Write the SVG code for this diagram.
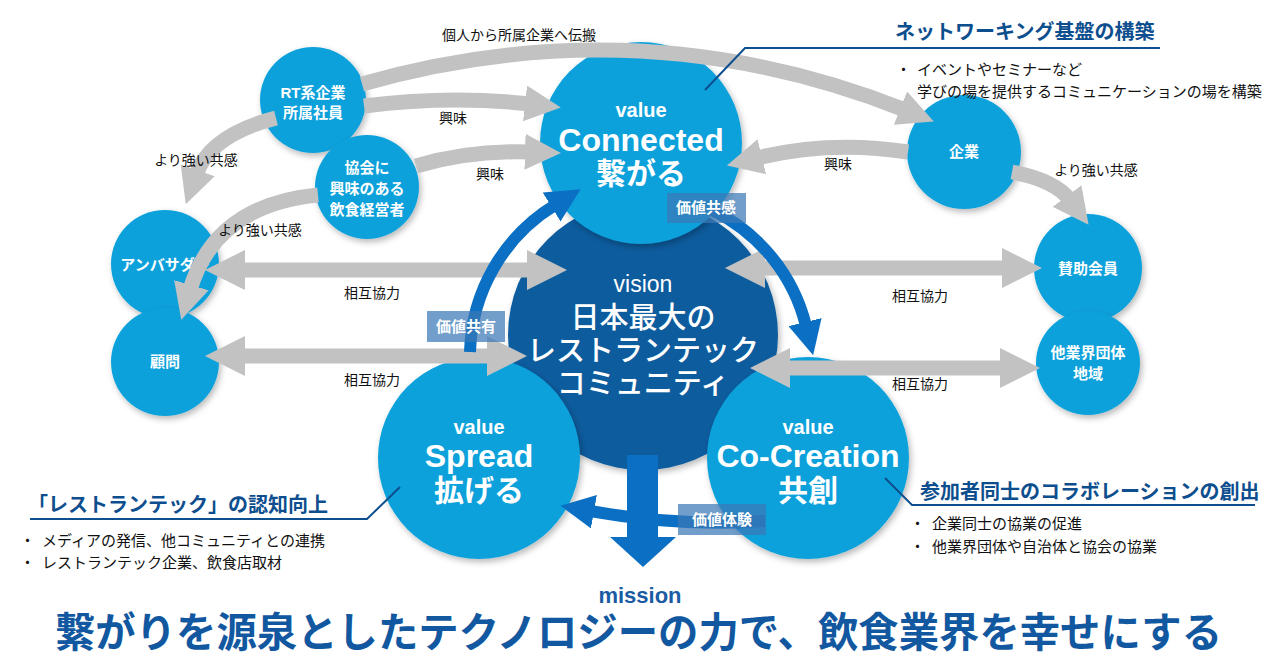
<svg xmlns="http://www.w3.org/2000/svg" width="1280" height="670" viewBox="0 0 1280 670">
<defs>
<style>
text{font-family:"Liberation Sans","Noto Sans CJK JP",sans-serif;}
.lc{fill:#0ca1db;}
.vc{fill:#0b5c9e;}
.nt{fill:#fff;font-weight:bold;font-size:15px;text-anchor:middle;}
.vt{fill:#fff;font-weight:bold;text-anchor:middle;}
.vs{fill:#fff;font-size:29px;font-weight:500;text-anchor:middle;}
.lb{fill:#111;font-size:14px;text-anchor:middle;}
.hd{fill:#0d4e8e;font-weight:bold;font-size:20px;}
.bl{fill:#111;font-size:15px;}
.ga{fill:none;stroke:#c2c2c2;stroke-width:15;}
.ba{fill:none;stroke:#0b6fc3;stroke-width:12;}
.bx{fill:#3a78b5;opacity:0.72;}
.bxt{fill:#fff;font-weight:bold;font-size:15px;text-anchor:middle;}
.ld{fill:none;stroke:#0d4e8e;stroke-width:2;}
</style>
<filter id="sh" x="-20%" y="-20%" width="140%" height="140%">
<feDropShadow dx="2" dy="3" stdDeviation="3" flood-color="#000" flood-opacity="0.28"/>
</filter>
<marker id="gh" viewBox="0 0 40 40" refX="5" refY="20" markerWidth="40" markerHeight="40" markerUnits="userSpaceOnUse" orient="auto-start-reverse">
<path d="M0 0 L40 20 L0 40 Z" fill="#c2c2c2"/>
</marker>
<marker id="gs" viewBox="0 0 36 36" refX="5" refY="18" markerWidth="36" markerHeight="36" markerUnits="userSpaceOnUse" orient="auto-start-reverse">
<path d="M0 0 L36 18 L0 36 Z" fill="#c2c2c2"/>
</marker>
<marker id="bh" viewBox="0 0 34 34" refX="4" refY="17" markerWidth="34" markerHeight="34" markerUnits="userSpaceOnUse" orient="auto">
<path d="M0 0 L34 17 L0 34 Z" fill="#0b6fc3"/>
</marker>
</defs>
<rect width="1280" height="670" fill="#fff"/>

<!-- main circles -->
<g id="vision">
<circle class="vc" cx="643" cy="335" r="135" filter="url(#sh)"/>
</g>
<g id="connected">
<circle class="lc" cx="641" cy="143" r="101" filter="url(#sh)"/>
<text class="vt" x="641" y="117" font-size="20">value</text>
<text class="vt" x="641" y="151" font-size="32">Connected</text>
<text class="vt" x="641" y="184" font-size="30">繋がる</text>
</g>
<g id="spread">
<circle class="lc" cx="479" cy="458" r="101" filter="url(#sh)"/>
<text class="vt" x="479" y="434" font-size="20">value</text>
<text class="vt" x="479" y="467" font-size="32">Spread</text>
<text class="vt" x="479" y="501" font-size="30">拡げる</text>
</g>
<g id="cocreation">
<circle class="lc" cx="808" cy="458" r="101" filter="url(#sh)"/>
<text class="vt" x="808" y="434" font-size="20">value</text>
<text class="vt" x="808" y="467" font-size="32">Co-Creation</text>
<text class="vt" x="808" y="501" font-size="30">共創</text>
</g>
<g id="vision-text">
<text x="643" y="292" fill="#fff" font-size="23" text-anchor="middle">vision</text>
<text class="vs" x="643" y="328">日本最大の</text>
<text class="vs" x="643" y="361">レストランテック</text>
<text class="vs" x="643" y="394">コミュニティ</text>
</g>

<!-- small nodes -->
<g id="rt">
<circle class="lc" cx="313" cy="100" r="53" filter="url(#sh)"/>
<text class="nt" x="313" y="98">RT系企業</text>
<text class="nt" x="313" y="118">所属社員</text>
</g>
<g id="kyokai">
<circle class="lc" cx="367" cy="187" r="52" filter="url(#sh)"/>
<text class="nt" x="367" y="173">協会に</text>
<text class="nt" x="367" y="194">興味のある</text>
<text class="nt" x="367" y="215">飲食経営者</text>
</g>
<g id="ambassador">
<circle class="lc" cx="165" cy="264" r="54" filter="url(#sh)"/>
<text class="nt" x="165" y="270">アンバサダー</text>
</g>
<g id="komon">
<circle class="lc" cx="165" cy="362" r="54" filter="url(#sh)"/>
<text class="nt" x="165" y="367">顧問</text>
</g>
<g id="kigyo">
<circle class="lc" cx="964" cy="152" r="57" filter="url(#sh)"/>
<text class="nt" x="964" y="157">企業</text>
</g>
<g id="sanjo">
<circle class="lc" cx="1088" cy="268" r="54" filter="url(#sh)"/>
<text class="nt" x="1088" y="274">賛助会員</text>
</g>
<g id="tagyokai">
<circle class="lc" cx="1088" cy="363" r="52" filter="url(#sh)"/>
<text class="nt" x="1088" y="358">他業界団体</text>
<text class="nt" x="1088" y="379">地域</text>
</g>

<!-- connectors -->
<g id="connectors">
<path class="ga" d="M362 84 Q640 5 905 110" marker-end="url(#gs)"/>
<path class="ga" d="M364 106 Q450 95 530 104" marker-end="url(#gs)"/>
<path class="ga" d="M416 166 Q470 150 530 152" marker-end="url(#gs)"/>
<path class="ga" d="M908 152 Q830 140 757 158" marker-end="url(#gs)"/>
<path class="ga" d="M1012 172 Q1055 180 1070 200" marker-end="url(#gs)"/>
<path class="ga" d="M276 118 Q210 135 196 175" marker-end="url(#gs)"/>
<path class="ga" d="M318 195 Q215 205 190 290" marker-end="url(#gs)"/>
<path class="ga" d="M240 270 L532 270" marker-start="url(#gh)" marker-end="url(#gh)"/>
<path class="ga" d="M240 356 L492 356" marker-start="url(#gh)" marker-end="url(#gh)"/>
<path class="ga" d="M760 268 L1007 268" marker-start="url(#gh)" marker-end="url(#gh)"/>
<path class="ga" d="M785 368 L1005 368" marker-start="url(#gh)" marker-end="url(#gh)"/>

<path class="ba" d="M470 352 A178 178 0 0 1 555 205" marker-end="url(#bh)"/>
<path class="ba" d="M712 210 A175 175 0 0 1 806 326" marker-end="url(#bh)"/>
<path class="ba" d="M765 521 Q680 527 590 511" marker-end="url(#bh)"/>
<polygon points="627,455 658,455 658,537 676,537 643,567 610,537 627,537" fill="#0b6fc3"/>

<rect class="bx" x="667" y="193" width="79" height="30"/>
<text class="bxt" x="706" y="213">価値共感</text>
<rect class="bx" x="427" y="311" width="78" height="31"/>
<text class="bxt" x="466" y="332">価値共有</text>
<rect class="bx" x="678" y="504" width="88" height="31"/>
<text class="bxt" x="722" y="525">価値体験</text>

<text class="lb" x="519" y="40">個人から所属企業へ伝搬</text>
<text class="lb" x="453" y="123">興味</text>
<text class="lb" x="490" y="179">興味</text>
<text class="lb" x="838" y="169">興味</text>
<text class="lb" x="196" y="165">より強い共感</text>
<text class="lb" x="260" y="235">より強い共感</text>
<text class="lb" x="1096" y="175">より強い共感</text>
<text class="lb" x="372" y="298">相互協力</text>
<text class="lb" x="372" y="385">相互協力</text>
<text class="lb" x="920" y="301">相互協力</text>
<text class="lb" x="920" y="389">相互協力</text>
</g>

<!-- annotations -->
<g id="note-network">
<path class="ld" d="M705 90 L745 48 L1160 48"/>
<text class="hd" x="895" y="39">ネットワーキング基盤の構築</text>
<text class="bl" x="896" y="75">・</text>
<text class="bl" x="917" y="75">イベントやセミナーなど</text>
<text class="bl" x="917" y="97">学びの場を提供するコミュニケーションの場を構築</text>
</g>
<g id="note-spread">
<path class="ld" d="M30 519 L367 519 L400 487"/>
<text class="hd" x="28" y="512">「レストランテック」の認知向上</text>
<text class="bl" x="20" y="546">・</text>
<text class="bl" x="42" y="546">メディアの発信、他コミュニティとの連携</text>
<text class="bl" x="20" y="568">・</text>
<text class="bl" x="42" y="568">レストランテック企業、飲食店取材</text>
</g>
<g id="note-cocreation">
<path class="ld" d="M885 478 L912 505 L1255 505"/>
<text class="hd" x="920" y="499">参加者同士のコラボレーションの創出</text>
<text class="bl" x="910" y="529">・</text>
<text class="bl" x="932" y="529">企業同士の協業の促進</text>
<text class="bl" x="910" y="552">・</text>
<text class="bl" x="932" y="552">他業界団体や自治体と協会の協業</text>
</g>

<g id="mission">
<text x="640" y="603" fill="#1a5ba3" font-size="22" font-weight="bold" text-anchor="middle">mission</text>
<text x="55" y="647" fill="#1258a0" font-size="41" font-weight="bold" textLength="1167" lengthAdjust="spacingAndGlyphs">繋がりを源泉としたテクノロジーの力で、飲食業界を幸せにする</text>
</g>
</svg>
